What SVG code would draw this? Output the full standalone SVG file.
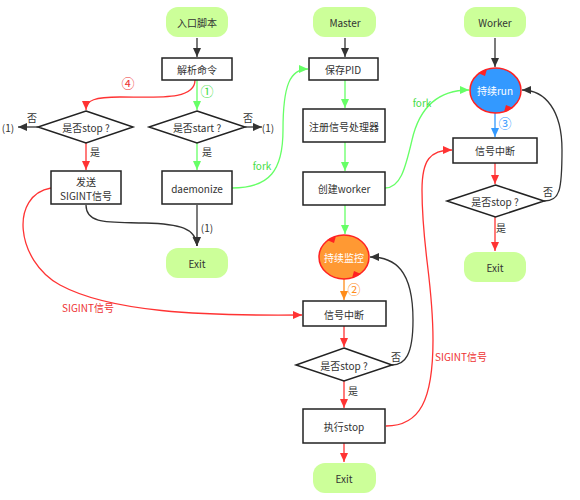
<svg xmlns="http://www.w3.org/2000/svg" width="580" height="500" viewBox="0 0 580 500">
<defs>
<style>
text{font-family:"Noto Sans CJK SC","Liberation Sans",sans-serif;font-size:10px;fill:#333;text-anchor:middle;dominant-baseline:central}
.term{fill:#ccff99;stroke:none}
.box{fill:#fff;stroke:#222;stroke-width:1.5}
.c{fill:none;stroke-width:1.3}
.k{stroke:#333}
.g{stroke:#66ff66}
.r{stroke:#ff3333}
.b{stroke:#3399ff}
.o{stroke:#ff8c1a}
.wt{fill:#fff}
.gt{fill:#44dd44}
.rt{fill:#ee3333}
</style>
<marker id="ak" markerUnits="userSpaceOnUse" markerWidth="10" markerHeight="10" refX="9" refY="4" orient="auto"><path d="M0,0 L9,4 L0,8 z" fill="#333"/></marker>
<marker id="ag" markerUnits="userSpaceOnUse" markerWidth="10" markerHeight="10" refX="9" refY="4" orient="auto"><path d="M0,0 L9,4 L0,8 z" fill="#66ff66"/></marker>
<marker id="ar" markerUnits="userSpaceOnUse" markerWidth="10" markerHeight="10" refX="9" refY="4" orient="auto"><path d="M0,0 L9,4 L0,8 z" fill="#ff3333"/></marker>
<marker id="ab" markerUnits="userSpaceOnUse" markerWidth="10" markerHeight="10" refX="9" refY="4" orient="auto"><path d="M0,0 L9,4 L0,8 z" fill="#3399ff"/></marker>
<marker id="ao" markerUnits="userSpaceOnUse" markerWidth="10" markerHeight="10" refX="9" refY="4" orient="auto"><path d="M0,0 L9,4 L0,8 z" fill="#ff8c1a"/></marker>
</defs>

<g id="connectors">
<path class="c k" d="M197,38 L197,57" marker-end="url(#ak)"/>
<path class="c k" d="M345,38 L345,57" marker-end="url(#ak)"/>
<path class="c k" d="M495,38 L495,67" marker-end="url(#ak)"/>
<path class="c g" d="M197,80 L197,110" marker-end="url(#ag)"/>
<path class="c g" d="M197,143 L197,170" marker-end="url(#ag)"/>
<path class="c g" d="M345,80 L345,108" marker-end="url(#ag)"/>
<path class="c g" d="M345,142 L345,171" marker-end="url(#ag)"/>
<path class="c g" d="M345,205 L345,234" marker-end="url(#ag)"/>
<path class="c r" d="M195,80 C195,100 160,97 120,97 C95,97 86,100 86,110" marker-end="url(#ar)"/>
<path class="c r" d="M86,143 L86,170" marker-end="url(#ar)"/>
<path class="c k" d="M38,127 L18,127" marker-end="url(#ak)"/>
<path class="c k" d="M245,127 L262,127" marker-end="url(#ak)"/>
<path class="c k" d="M197,205 L197,246" marker-end="url(#ak)"/>
<path class="c k" d="M86,205 C86,225 110,222 145,223 C180,224 196,228 197,246" marker-end="url(#ak)"/>
<path class="c r" d="M51,188 C10,195 15,260 60,285 C110,312 200,316 302,315" marker-end="url(#ar)"/>
<path class="c g" d="M232,188 C270,188 283,170 283,130 C283,85 290,69 308,69" marker-end="url(#ag)"/>
<path class="c g" d="M385,188 C400,188 405,170 412,140 C420,105 440,90 469,90" marker-end="url(#ag)"/>
<path class="c b" d="M495,113 L495,137" marker-end="url(#ab)"/>
<path class="c r" d="M495,163 L495,184" marker-end="url(#ar)"/>
<path class="c k" d="M544,201 C560,201 562,190 562,150 C562,110 545,90 522,90" marker-end="url(#ak)"/>
<path class="c r" d="M495,217 L495,251" marker-end="url(#ar)"/>
<path class="c o" d="M344,279 L344,300" marker-end="url(#ao)"/>
<path class="c r" d="M344,326 L344,347" marker-end="url(#ar)"/>
<path class="c k" d="M392,365 C405,365 413,355 413,320 C413,270 395,257 370,257" marker-end="url(#ak)"/>
<path class="c r" d="M344,381 L344,408" marker-end="url(#ar)"/>
<path class="c r" d="M344,443 L344,462" marker-end="url(#ar)"/>
<path class="c r" d="M386,426 C420,426 433,400 433,340 C433,280 422,250 422,190 C422,160 430,150 452,150" marker-end="url(#ar)"/>
<text x="32" y="117">否</text>
<text x="8" y="127">(1)</text>
<text x="248" y="117">否</text>
<text x="268" y="127">(1)</text>
<text x="95" y="151">是</text>
<text x="207" y="151">是</text>
<text x="207" y="227">(1)</text>
<text x="262" y="165" class="gt">fork</text>
<text x="422" y="102" class="gt">fork</text>
<text x="207" y="90" class="gt" style="font-size:13px">①</text>
<text x="128" y="82" class="rt" style="font-size:13px">④</text>
<text x="505" y="122" style="font-size:13px;fill:#3399ff">③</text>
<text x="354" y="288" style="font-size:13px;fill:#ff8c1a">②</text>
<text x="88" y="307" class="rt">SIGINT信号</text>
<text x="461" y="356" class="rt">SIGINT信号</text>
<text x="548" y="191">否</text>
<text x="501" y="227">是</text>
<text x="396" y="356">否</text>
<text x="353" y="390">是</text>
</g>

<g id="entry"><rect class="term" x="166" y="7" width="62" height="30" rx="12"/><text x="197" y="22">入口脚本</text></g>
<g id="parse"><rect class="box" x="162" y="58" width="70" height="22"/><text x="197" y="69">解析命令</text></g>
<g id="isstop1"><polygon class="box" points="86,111 133,127 86,143 38,127"/><text x="86" y="127">是否stop ?</text></g>
<g id="isstart"><polygon class="box" points="197,111 245,127 197,143 149,127"/><text x="197" y="127">是否start ?</text></g>
<g id="send"><rect class="box" x="51" y="171" width="70" height="33"/><text x="86" y="181">发送</text><text x="86" y="195">SIGINT信号</text></g>
<g id="daemonize"><rect class="box" x="162" y="171" width="70" height="33"/><text x="197" y="188">daemonize</text></g>
<g id="exit1"><rect class="term" x="166" y="248" width="62" height="30" rx="12"/><text x="197" y="263">Exit</text></g>

<g id="master"><rect class="term" x="313" y="7" width="63" height="30" rx="12"/><text x="345" y="22">Master</text></g>
<g id="savepid"><rect class="box" x="309" y="58" width="69" height="22"/><text x="343" y="69">保存PID</text></g>
<g id="reg"><rect class="box" x="303" y="109" width="82" height="33"/><text x="344" y="126">注册信号处理器</text></g>
<g id="create"><rect class="box" x="303" y="172" width="82" height="33"/><text x="344" y="188">创建worker</text></g>
<g id="monitor"><ellipse cx="344" cy="257" rx="25" ry="22" fill="#ff9933" stroke="#ff2222" stroke-width="1.5"/><text x="344" y="257" class="wt">持续监控</text><path d="M327,240 L336,236 L334,243 z" fill="#ff2222"/><path d="M361,274 L352,278 L354,271 z" fill="#ff2222"/></g>
<g id="sig2"><rect class="box" x="303" y="301" width="83" height="25"/><text x="344" y="314">信号中断</text></g>
<g id="isstop2"><polygon class="box" points="344,348 392,365 344,381 296,365"/><text x="344" y="365">是否stop ?</text></g>
<g id="dostop"><rect class="box" x="303" y="409" width="82" height="34"/><text x="344" y="426">执行stop</text></g>
<g id="exit2"><rect class="term" x="313" y="463" width="63" height="30" rx="12"/><text x="344" y="478">Exit</text></g>

<g id="worker"><rect class="term" x="464" y="7" width="62" height="30" rx="12"/><text x="495" y="22">Worker</text></g>
<g id="run"><ellipse cx="495.5" cy="90.5" rx="25.5" ry="22.5" fill="#3399ff" stroke="#ff2222" stroke-width="1.5"/><text x="495" y="90" class="wt">持续run</text><path d="M478,73 L487,69 L485,76 z" fill="#ff2222"/><path d="M513,108 L504,112 L506,105 z" fill="#ff2222"/></g>
<g id="sig3"><rect class="box" x="453" y="138" width="84" height="25"/><text x="495" y="150">信号中断</text></g>
<g id="isstop3"><polygon class="box" points="495.5,185 544,201 495.5,217 447,201"/><text x="495" y="201">是否stop ?</text></g>
<g id="exit3"><rect class="term" x="464" y="252" width="62" height="30" rx="12"/><text x="495" y="267">Exit</text></g>
</svg>
